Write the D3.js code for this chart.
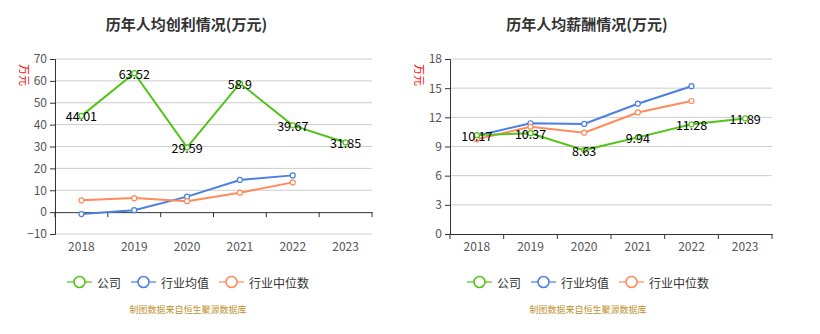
<!DOCTYPE html>
<html>
<head>
<meta charset="utf-8">
<script src="https://d3js.org/d3.v7.min.js"></script>
<style>
  body { margin: 0; background: #fff; }
  text { font-family: "Noto Sans CJK SC", "Microsoft YaHei", sans-serif; }
</style>
</head>
<body>
<div id="chart"></div>
<script>
// categories
const years = ["2018", "2019", "2020", "2021", "2022", "2023"];
const seriesNames = ["公司", "行业均值", "行业中位数"];
const colors = ["#52c41a", "#4a7fe3", "#ff8a5b"];

// left chart: profit per capita (万元)
const profitCompany = [44.01, 63.52, 29.59, 58.9, 39.67, 31.85];
const profitMean = [-0.9, 0.9, 7.1, 14.7, 16.8, null];
const profitMedian = [5.4, 6.4, 5.0, 8.9, 13.6, null];
const profitTicks = [-10, 0, 10, 20, 30, 40, 50, 60, 70];

// right chart: salary per capita (万元)
const salaryCompany = [10.17, 10.37, 8.63, 9.94, 11.28, 11.89];
const salaryMean = [10.1, 11.39, 11.32, 13.4, 15.2, null];
const salaryMedian = [9.74, 11.04, 10.42, 12.5, 13.68, null];
const salaryTicks = [0, 3, 6, 9, 12, 15, 18];

const W = 820, H = 334;
const svg = d3.select("#chart").append("svg")
  .attr("width", W).attr("height", H);

function drawChart(cfg) {
  const g = svg.append("g");
  const x = d3.scaleBand().domain(years).range([cfg.left, cfg.right]);
  const y = d3.scaleLinear().domain(d3.extent(cfg.ticks)).range([cfg.bottom, 59]);

  // title
  g.append("text")
    .attr("x", (cfg.left + cfg.right) / 2 + cfg.titleDx).attr("y", 30)
    .attr("text-anchor", "middle")
    .attr("font-size", 15).attr("font-weight", "bold").attr("fill", "#333")
    .text(cfg.title);

  // unit
  g.append("text")
    .attr("transform", "translate(" + (cfg.left - 30) + ",75) rotate(90)")
    .attr("text-anchor", "middle").attr("dominant-baseline", "central")
    .attr("font-size", 11).attr("fill", "#f00")
    .text("万元");

  // grid
  g.append("g").selectAll("line")
    .data(cfg.ticks.filter(t => t !== 0))
    .enter().append("line")
    .attr("x1", cfg.left).attr("x2", cfg.right)
    .attr("y1", d => y(d)).attr("y2", d => y(d))
    .attr("stroke", "#ccc").attr("stroke-width", 1);

  // y axis
  const ya = g.append("g")
    .attr("transform", "translate(" + cfg.left + ",0)")
    .call(d3.axisLeft(y).tickValues(cfg.ticks).tickSize(5).tickPadding(3));
  ya.select(".domain").attr("stroke", "#333");
  ya.selectAll(".tick line").attr("stroke", "#333");
  ya.selectAll(".tick text").attr("font-size", 12).attr("fill", "#555")
    .attr("font-family", "\"Noto Sans CJK SC\", sans-serif");

  // x axis at zero
  const y0 = y(0);
  const xa = g.append("g")
    .attr("transform", "translate(0," + y0 + ")")
    .call(d3.axisBottom(x).tickSize(0).tickFormat(""));
  xa.select(".domain").attr("stroke", "#333");
  const bounds = years.map(d => x(d)).concat([cfg.right]);
  g.append("g").selectAll("line").data(bounds).enter().append("line")
    .attr("x1", d => d).attr("x2", d => d)
    .attr("y1", y0).attr("y2", y0 + 5)
    .attr("stroke", "#333");
  g.append("g").selectAll("text").data(years).enter().append("text")
    .attr("x", d => x(d) + x.bandwidth() / 2)
    .attr("y", cfg.bottom + 17)
    .attr("text-anchor", "middle")
    .attr("font-size", 12).attr("fill", "#555")
    .text(d => d);

  // lines
  const line = d3.line()
    .defined(d => d != null)
    .x((d, i) => x(years[i]) + x.bandwidth() / 2)
    .y(d => y(d));

  const series = [cfg.mean, cfg.median, cfg.company];
  const sColors = [colors[1], colors[2], colors[0]];
  series.forEach((s, k) => {
    g.append("path").datum(s)
      .attr("d", line)
      .attr("fill", "none").attr("stroke", sColors[k]).attr("stroke-width", 2);
    g.append("g").selectAll("circle")
      .data(s.map((v, i) => ({ v, i })).filter(d => d.v != null))
      .enter().append("circle")
      .attr("cx", d => x(years[d.i]) + x.bandwidth() / 2)
      .attr("cy", d => y(d.v))
      .attr("r", 2.5)
      .attr("fill", "#fff").attr("stroke", sColors[k]).attr("stroke-width", 1.2);
  });

  // company labels
  g.append("g").selectAll("text")
    .data(cfg.company)
    .enter().append("text")
    .attr("x", (d, i) => x(years[i]) + x.bandwidth() / 2)
    .attr("y", d => y(d))
    .attr("text-anchor", "middle").attr("dominant-baseline", "central")
    .attr("font-size", 12.5).attr("fill", "#000")
    .text(d => d);

  // legend
  const lg = g.append("g");
  let lx = cfg.legendX;
  seriesNames.forEach((name, k) => {
    const c = colors[k];
    lg.append("line")
      .attr("x1", lx).attr("x2", lx + 25)
      .attr("y1", 282).attr("y2", 282)
      .attr("stroke", c).attr("stroke-opacity", 0.6).attr("stroke-width", 2);
    lg.append("circle")
      .attr("cx", lx + 12.5).attr("cy", 282).attr("r", 5.5)
      .attr("fill", "#fff").attr("stroke", c).attr("stroke-width", 1.6);
    const t = lg.append("text")
      .attr("x", lx + 30).attr("y", 282)
      .attr("dominant-baseline", "central")
      .attr("font-size", 12).attr("fill", "#333")
      .text(name);
    lx += 30 + t.node().getComputedTextLength() + 10;
  });

  // source note
  g.append("text")
    .attr("x", cfg.noteX).attr("y", 309)
    .attr("text-anchor", "middle").attr("dominant-baseline", "central")
    .attr("font-size", 9).attr("fill", "#c0922e")
    .text("制图数据来自恒生聚源数据库");
}

drawChart({
  title: "历年人均创利情况(万元)", titleDx: -27,
  left: 55, right: 372, bottom: 234,
  ticks: profitTicks,
  company: profitCompany, mean: profitMean, median: profitMedian,
  legendX: 67, noteX: 188
});

drawChart({
  title: "历年人均薪酬情况(万元)", titleDx: -24,
  left: 450, right: 772, bottom: 234,
  ticks: salaryTicks,
  company: salaryCompany, mean: salaryMean, median: salaryMedian,
  legendX: 467, noteX: 588
});
</script>
</body>
</html>
